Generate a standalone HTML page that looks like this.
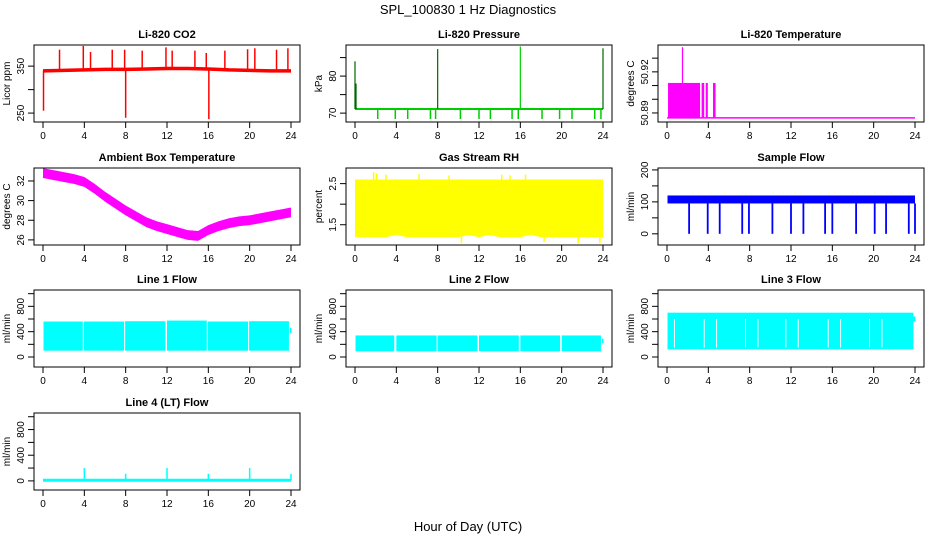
<!DOCTYPE html>
<html><head><meta charset="utf-8"><style>
body{margin:0;background:#fff;}
svg{display:block;font-family:"Liberation Sans",sans-serif;}
</style></head><body>
<svg id="c" width="936" height="540" viewBox="0 0 936 540">
<text x="468" y="14" text-anchor="middle" font-size="13">SPL_100830  1 Hz Diagnostics</text>
<text x="468" y="531" text-anchor="middle" font-size="13">Hour of Day (UTC)</text>
</svg>
<script>
const xTicks=[0,4,8,12,16,20,24];
// CO2
const co2Hours=[0,2,4,6,8,10,12,14,16,18,20,22,24];
const co2Base=[340,341,342,343,343,344,345,345,344,342,341,340,340];
const co2SpikeT=[1.6,3.9,4.6,6.7,7.9,9.6,11.9,12.5,14.7,15.8,17.6,19.8,20.5,22.6,23.7,0.05,8.0,16.05];
const co2SpikeV=[385,393,380,385,385,383,390,383,383,378,383,386,388,385,388,255,240,237];
// Pressure
const presBase=71.1;
const presDipT=[2.2,3.9,5.1,7.3,7.8,10.2,12.0,13.1,15.2,15.8,18.1,19.8,21.0,23.2,23.8];
const presDipV=[68.4,68.4,68.4,68.4,68.4,68.4,68.4,68.4,68.4,68.4,68.4,68.4,68.4,68.4,68.4];
const presSpikeT=[0,0.1,8,16,24];
const presSpikeV=[84,78,87.3,88,87.5];
// Li temperature
const tempBase=50.8864;
const tempBlockStart=[0.1,3.35,3.75,4.45];
const tempBlockEnd=[3.2,3.6,3.95,4.7];
const tempBlockTop=[50.9119,50.9119,50.9119,50.9119];
const tempSpikeT=[1.5];
const tempSpikeV=[50.938];
// Ambient
const ambHours=[0,1,2,3,4,5,6,7,8,9,10,11,12,13,14,15,16,17,18,19,20,21,22,23,24];
const ambVals=[32.8,32.6,32.4,32.2,31.9,31.2,30.4,29.7,29.0,28.4,27.8,27.4,27.1,26.8,26.5,26.4,27.0,27.4,27.7,27.9,28.0,28.2,28.4,28.6,28.8];
// RH
const rhHigh=[2.6,2.6,2.6,2.6,2.6,2.6,2.6,2.6,2.6,2.6,2.6,2.6,2.6,2.6,2.6,2.6,2.6,2.6,2.6,2.6,2.6,2.6,2.6,2.6,2.6];
const rhLow=[1.2,1.2,1.2,1.2,1.25,1.2,1.2,1.2,1.2,1.2,1.2,1.25,1.2,1.25,1.2,1.2,1.2,1.25,1.2,1.2,1.2,1.2,1.2,1.2,1.2];
const rhSpikeT=[1.8,2.1,3.0,6.2,9.1,10.3,14.2,15.0,16.5,18.3,21.6,23.7];
const rhSpikeV=[2.78,2.75,2.72,2.73,2.7,1.05,2.72,2.7,2.72,1.08,1.05,1.05];
// Sample flow
const sfBaseLow=95, sfBaseHigh=120;
const sfDropT=[2.14,3.94,5.1,7.28,7.93,10.2,12.0,13.2,15.3,16.0,18.3,20.1,21.2,23.4,24.0];
// Line flows
const l1Start=[0.05,3.95,7.95,12.0,15.95,19.95];
const l1End=[3.85,7.85,11.85,15.85,19.85,23.8];
const l1Top=[560,560,565,575,560,565];
const l1Low=100;
const l2Start=[0.05,4.0,8.0,12.0,16.0,20.0];
const l2End=[3.8,7.9,11.85,15.85,19.85,23.8];
const l2Top=[340,340,340,340,340,340];
const l2Low=90;
const l3Start=[0.05];
const l3End=[23.85];
const l3Top=[700];
const l3Low=120;
const l3GapT=[0.72,3.6,4.8,7.6,8.8,11.5,12.7,15.6,16.8,19.6,20.8];
const l4Base=10;
const l4SpikeT=[4,8,12,16,20,24];
const l4SpikeV=[200,110,200,110,200,110];

const svg=document.getElementById('c');
const NS='http://www.w3.org/2000/svg';
function mk(tag,attrs,parent){const e=document.createElementNS(NS,tag);for(const k in attrs)e.setAttribute(k,attrs[k]);(parent||svg).appendChild(e);return e;}

const colX=[34,346,658], rowY=[45,168,290,413], W=266, H=77;
function panel(col,row,title,ylab,ymin,ymax,ticks,labels,name){
  const bx=colX[col], by=rowY[row];
  const g=mk('g',{});
  
  
  const xs=t=>bx+9+(t)*(W-18)/24;
  const ys=v=>by+H-(v-ymin)/(ymax-ymin)*H;
  const t=mk('text',{x:bx+W/2,y:by-7,'text-anchor':'middle','font-size':11,'font-weight':'bold'},g);
  t.textContent=title;
  
  
  const yl=mk('text',{x:0,y:0,'text-anchor':'middle','font-size':10,transform:`translate(${bx-24},${by+H/2}) rotate(-90)`},g);
  yl.textContent=ylab;
  
  
  const ax=mk('g',{stroke:'#000','stroke-width':1,fill:'none'},g);
  
  
  xTicks.forEach(v=>{mk('line',{x1:xs(v),x2:xs(v),y1:by+H,y2:by+H+6},ax);
    const tx=mk('text',{x:xs(v),y:by+H+17,'text-anchor':'middle','font-size':10,fill:'#000',stroke:'none'},g);tx.textContent=v;});
  ticks.forEach((v,i)=>{mk('line',{x1:bx-6,x2:bx,y1:ys(v),y2:ys(v)},ax);
    if(labels[i]!==''){const tx=mk('text',{x:0,y:0,'text-anchor':'middle','font-size':10,transform:`translate(${bx-10},${ys(v)}) rotate(-90)`},g);tx.textContent=labels[i];}});
  mk('line',{x1:bx,x2:bx,y1:ys(ticks[0]),y2:ys(ticks[ticks.length-1])},ax);
  mk('line',{x1:xs(0),x2:xs(24),y1:by+H,y2:by+H},ax);
  const data=mk('g',{},g);
  
  
  mk('rect',{x:bx,y:by,width:W,height:H,fill:'none',stroke:'#000'},g);
  return {xs,ys,g:data};
}
function vline(p,t,v0,v1,color,w){mk('line',{x1:p.xs(t),x2:p.xs(t),y1:p.ys(v0),y2:p.ys(v1),stroke:color,'stroke-width':w||1.2},p.g);}
function band(p,s,e,lo,hi,color){mk('rect',{x:p.xs(s),y:p.ys(hi),width:p.xs(e)-p.xs(s),height:p.ys(lo)-p.ys(hi),fill:color},p.g);}

// CO2
let p=panel(0,0,'Li-820 CO2','Licor ppm',231,395,[250,300,350],['250','','350'],'co2-panel');
mk('polyline',{points:co2Hours.map((h,i)=>p.xs(h)+','+p.ys(co2Base[i])).join(' '),fill:'none',stroke:'red','stroke-width':3.5},p.g);
co2SpikeT.forEach((t,i)=>vline(p,t,co2Base[Math.min(Math.round(t/2),12)],co2SpikeV[i],'red',1.5));

// Pressure
p=panel(1,0,'Li-820 Pressure','kPa',67.6,88.4,[70,75,80,85],['70','','80',''],'pressure-panel');
mk('line',{x1:p.xs(0),x2:p.xs(24),y1:p.ys(presBase),y2:p.ys(presBase),stroke:'#00cc00','stroke-width':2},p.g);
presDipT.forEach((t,i)=>vline(p,t,presBase,presDipV[i],'#00cc00',1.5));
presSpikeT.forEach((t,i)=>vline(p,t,presBase,presSpikeV[i],i===3?'#00cc00':'#006600',1.2));

// Li temp
p=panel(2,0,'Li-820 Temperature','degrees C',50.8834,50.9396,[50.89,50.90,50.91,50.92,50.93],['50.89','','','50.92',''],'li-temperature-panel');
tempBlockStart.forEach((s,i)=>band(p,s,tempBlockEnd[i],tempBase,tempBlockTop[i],'magenta'));
mk('line',{x1:p.xs(0),x2:p.xs(24),y1:p.ys(tempBase),y2:p.ys(tempBase),stroke:'magenta','stroke-width':1.5},p.g);
tempSpikeT.forEach((t,i)=>vline(p,t,tempBase,tempSpikeV[i],'magenta',1.2));

// Ambient
p=panel(0,1,'Ambient Box Temperature','degrees C',25.48,33.32,[26,28,30,32],['26','28','30','32'],'ambient-temperature-panel');
{const up=ambHours.map((h,i)=>p.xs(h)+','+p.ys(ambVals[i]+0.5));const dn=ambHours.map((h,i)=>p.xs(h)+','+p.ys(ambVals[i]-0.5)).reverse();
mk('polygon',{points:up.concat(dn).join(' '),fill:'magenta'},p.g);}

// RH
p=panel(1,1,'Gas Stream RH','percent',1.007,2.88,[1.5,2.0,2.5],['1.5','','2.5'],'rh-panel');
{const up=ambHours.map((h,i)=>p.xs(h)+','+p.ys(rhHigh[i]));const dn=ambHours.map((h,i)=>p.xs(h)+','+p.ys(rhLow[i])).reverse();
mk('polygon',{points:up.concat(dn).join(' '),fill:'yellow'},p.g);}
rhSpikeT.forEach((t,i)=>vline(p,t,2.0,rhSpikeV[i],'yellow',1.5));

// Sample flow
p=panel(2,1,'Sample Flow','ml/min',-35,206,[0,50,100,150,200],['0','','100','','200'],'sample-flow-panel');
band(p,0.05,24,sfBaseLow,sfBaseHigh,'blue');
sfDropT.forEach(t=>vline(p,t,sfBaseLow,0,'blue',1.8));

// Line flows
const lt=[0,200,400,600,800,1000], ll=['0','','400','','800',''];
p=panel(0,2,'Line 1 Flow','ml/min',-158,1058,lt,ll,'line1-flow-panel');
l1Start.forEach((s,i)=>band(p,s,l1End[i],l1Low,l1Top[i],'cyan'));
band(p,23.9,24.05,380,460,'cyan');
p=panel(1,2,'Line 2 Flow','ml/min',-158,1058,lt,ll,'line2-flow-panel');
l2Start.forEach((s,i)=>band(p,s,l2End[i],l2Low,l2Top[i],'cyan'));
band(p,23.9,24.05,220,290,'cyan');
p=panel(2,2,'Line 3 Flow','ml/min',-158,1058,lt,ll,'line3-flow-panel');
l3Start.forEach((s,i)=>band(p,s,l3End[i],l3Low,l3Top[i],'cyan'));
band(p,23.85,24.05,560,640,'cyan');
l3GapT.forEach(t=>vline(p,t,150,600,'#fff',1));
p=panel(0,3,'Line 4 (LT) Flow','ml/min',-142,1058,lt,ll,'line4-flow-panel');
mk('line',{x1:p.xs(0),x2:p.xs(24),y1:p.ys(l4Base),y2:p.ys(l4Base),stroke:'cyan','stroke-width':3},p.g);
l4SpikeT.forEach((t,i)=>vline(p,t,l4Base,l4SpikeV[i],'cyan',1.5));
</script>
</body></html>
